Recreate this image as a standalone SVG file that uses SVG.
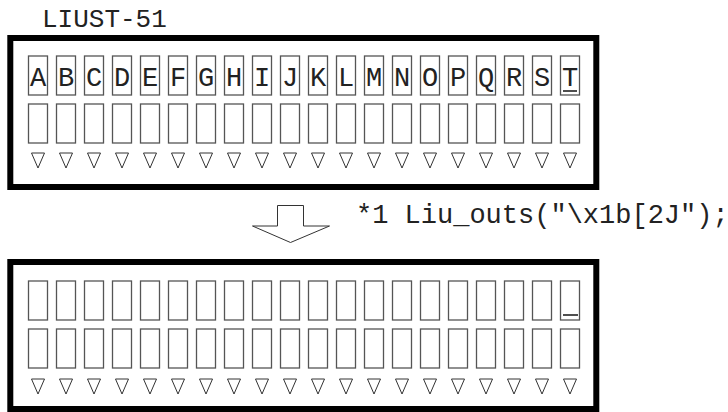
<svg xmlns="http://www.w3.org/2000/svg" xmlns:xlink="http://www.w3.org/1999/xlink" width="728" height="412" viewBox="0 0 728 412">
<style>
.frame{fill:#fff;stroke:#000;stroke-width:6}
.cell{fill:#fff;stroke:#555;stroke-width:1.3}
.tri{fill:#fff;stroke:#333;stroke-width:1}
.t{font-family:"Liberation Mono","Courier New",monospace;fill:#222}
.ch{font-size:27px;text-anchor:middle}
.cur{stroke:#222;stroke-width:1.6}
</style>
<defs>
<rect id="c" class="cell" x="0" y="0" width="19" height="39"/>
<polygon id="v" class="tri" points="3,0 16,0 9.5,15"/>
</defs>
<rect width="728" height="412" fill="#fff"/>
<text class="t" x="42" y="27" font-size="26">LIUST-51</text>
<g id="display-before">
<rect class="frame" x="10.3" y="38" width="586" height="149"/>
<g transform="translate(28.5,56)">
<use xlink:href="#c" x="0"/><use xlink:href="#c" x="28"/><use xlink:href="#c" x="56"/><use xlink:href="#c" x="84"/><use xlink:href="#c" x="112"/><use xlink:href="#c" x="140"/><use xlink:href="#c" x="168"/><use xlink:href="#c" x="196"/><use xlink:href="#c" x="224"/><use xlink:href="#c" x="252"/><use xlink:href="#c" x="280"/><use xlink:href="#c" x="308"/><use xlink:href="#c" x="336"/><use xlink:href="#c" x="364"/><use xlink:href="#c" x="392"/><use xlink:href="#c" x="420"/><use xlink:href="#c" x="448"/><use xlink:href="#c" x="476"/><use xlink:href="#c" x="504"/><use xlink:href="#c" x="532"/>
</g>
<g transform="translate(28.5,104)">
<use xlink:href="#c" x="0"/><use xlink:href="#c" x="28"/><use xlink:href="#c" x="56"/><use xlink:href="#c" x="84"/><use xlink:href="#c" x="112"/><use xlink:href="#c" x="140"/><use xlink:href="#c" x="168"/><use xlink:href="#c" x="196"/><use xlink:href="#c" x="224"/><use xlink:href="#c" x="252"/><use xlink:href="#c" x="280"/><use xlink:href="#c" x="308"/><use xlink:href="#c" x="336"/><use xlink:href="#c" x="364"/><use xlink:href="#c" x="392"/><use xlink:href="#c" x="420"/><use xlink:href="#c" x="448"/><use xlink:href="#c" x="476"/><use xlink:href="#c" x="504"/><use xlink:href="#c" x="532"/>
</g>
<g transform="translate(28.5,153)">
<use xlink:href="#v" x="0"/><use xlink:href="#v" x="28"/><use xlink:href="#v" x="56"/><use xlink:href="#v" x="84"/><use xlink:href="#v" x="112"/><use xlink:href="#v" x="140"/><use xlink:href="#v" x="168"/><use xlink:href="#v" x="196"/><use xlink:href="#v" x="224"/><use xlink:href="#v" x="252"/><use xlink:href="#v" x="280"/><use xlink:href="#v" x="308"/><use xlink:href="#v" x="336"/><use xlink:href="#v" x="364"/><use xlink:href="#v" x="392"/><use xlink:href="#v" x="420"/><use xlink:href="#v" x="448"/><use xlink:href="#v" x="476"/><use xlink:href="#v" x="504"/><use xlink:href="#v" x="532"/>
</g>
<g class="t ch">
<text x="38" y="86">A</text><text x="66" y="86">B</text><text x="94" y="86">C</text><text x="122" y="86">D</text><text x="150" y="86">E</text><text x="178" y="86">F</text><text x="206" y="86">G</text><text x="234" y="86">H</text><text x="262" y="86">I</text><text x="290" y="86">J</text><text x="318" y="86">K</text><text x="346" y="86">L</text><text x="374" y="86">M</text><text x="402" y="86">N</text><text x="430" y="86">O</text><text x="458" y="86">P</text><text x="486" y="86">Q</text><text x="514" y="86">R</text><text x="542" y="86">S</text><text x="570" y="86">T</text>
</g>
<line class="cur" x1="563" y1="91" x2="577" y2="91"/>
</g>
<g id="connectors">
<polygon points="277.5,205.5 303.5,205.5 303.5,226 329.5,226 290.5,242.5 252.5,226 277.5,226" fill="#fff" stroke="#333" stroke-width="1"/>
</g>
<text class="t" x="356" y="223" font-size="27">*1 Liu_outs("\x1b[2J");</text>
<g id="display-after">
<rect class="frame" x="10.3" y="262" width="586" height="147"/>
<g transform="translate(28.5,281)">
<use xlink:href="#c" x="0"/><use xlink:href="#c" x="28"/><use xlink:href="#c" x="56"/><use xlink:href="#c" x="84"/><use xlink:href="#c" x="112"/><use xlink:href="#c" x="140"/><use xlink:href="#c" x="168"/><use xlink:href="#c" x="196"/><use xlink:href="#c" x="224"/><use xlink:href="#c" x="252"/><use xlink:href="#c" x="280"/><use xlink:href="#c" x="308"/><use xlink:href="#c" x="336"/><use xlink:href="#c" x="364"/><use xlink:href="#c" x="392"/><use xlink:href="#c" x="420"/><use xlink:href="#c" x="448"/><use xlink:href="#c" x="476"/><use xlink:href="#c" x="504"/><use xlink:href="#c" x="532"/>
</g>
<g transform="translate(28.5,329)">
<use xlink:href="#c" x="0"/><use xlink:href="#c" x="28"/><use xlink:href="#c" x="56"/><use xlink:href="#c" x="84"/><use xlink:href="#c" x="112"/><use xlink:href="#c" x="140"/><use xlink:href="#c" x="168"/><use xlink:href="#c" x="196"/><use xlink:href="#c" x="224"/><use xlink:href="#c" x="252"/><use xlink:href="#c" x="280"/><use xlink:href="#c" x="308"/><use xlink:href="#c" x="336"/><use xlink:href="#c" x="364"/><use xlink:href="#c" x="392"/><use xlink:href="#c" x="420"/><use xlink:href="#c" x="448"/><use xlink:href="#c" x="476"/><use xlink:href="#c" x="504"/><use xlink:href="#c" x="532"/>
</g>
<g transform="translate(28.5,379)">
<use xlink:href="#v" x="0"/><use xlink:href="#v" x="28"/><use xlink:href="#v" x="56"/><use xlink:href="#v" x="84"/><use xlink:href="#v" x="112"/><use xlink:href="#v" x="140"/><use xlink:href="#v" x="168"/><use xlink:href="#v" x="196"/><use xlink:href="#v" x="224"/><use xlink:href="#v" x="252"/><use xlink:href="#v" x="280"/><use xlink:href="#v" x="308"/><use xlink:href="#v" x="336"/><use xlink:href="#v" x="364"/><use xlink:href="#v" x="392"/><use xlink:href="#v" x="420"/><use xlink:href="#v" x="448"/><use xlink:href="#v" x="476"/><use xlink:href="#v" x="504"/><use xlink:href="#v" x="532"/>
</g>
<line class="cur" x1="563" y1="315" x2="578" y2="315"/>
</g>
</svg>
